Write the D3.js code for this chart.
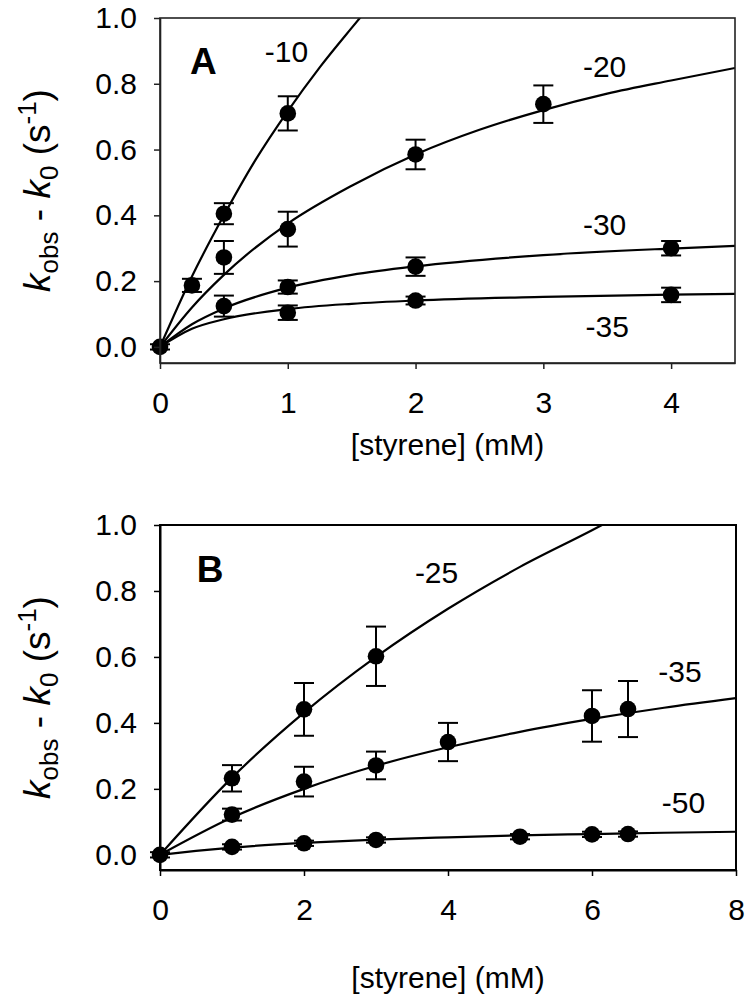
<!DOCTYPE html>
<html>
<head>
<meta charset="utf-8">
<script src="https://cdn.jsdelivr.net/npm/d3@7"></script>
<style>
  html, body { margin: 0; padding: 0; background: #fff; }
  svg { display: block; }
  text { font-family: "Liberation Sans", Arial, Helvetica, sans-serif; fill: #000; }
</style>
</head>
<body>
<svg id="chart" width="749" height="1001"></svg>
<script>
// ---------------- DATA ----------------
const xTicksA = [0, 1, 2, 3, 4];
const yTicks = [0.0, 0.2, 0.4, 0.6, 0.8, 1.0];
const xTicksB = [0, 2, 4, 6, 8];

// Panel A measured points [x (mM), y (s^-1), error]
const ptsA_m10 = [[0, 0, 0.008], [0.25, 0.187, 0.02], [0.5, 0.405, 0.032], [1, 0.71, 0.052]];
const ptsA_m20 = [[0.5, 0.272, 0.05], [1, 0.358, 0.053], [2, 0.585, 0.045], [3, 0.738, 0.057]];
const ptsA_m30 = [[0.5, 0.124, 0.032], [1, 0.182, 0.02], [2, 0.244, 0.028], [4, 0.300, 0.022]];
const ptsA_m35 = [[1, 0.104, 0.022], [2, 0.141, 0.012], [4, 0.158, 0.022]];

// Panel A fitted curves [x, y]
const curveA_m10 = [[0, 0], [0.25, 0.214], [0.5, 0.40], [0.75, 0.57], [1, 0.717], [1.25, 0.85], [1.5, 0.97], [1.65, 1.04]];
const curveA_m20 = [[0, 0], [0.25, 0.12], [0.5, 0.219], [1, 0.375], [1.5, 0.49], [2, 0.585], [2.5, 0.66], [3, 0.72], [3.5, 0.77], [4, 0.81], [4.5, 0.848]];
const curveA_m30 = [[0, 0], [0.25, 0.069], [0.5, 0.117], [1, 0.18], [1.5, 0.219], [2, 0.245], [3, 0.279], [4, 0.299], [4.5, 0.307]];
const curveA_m35 = [[0, 0], [0.25, 0.055], [0.5, 0.084], [1, 0.115], [1.5, 0.131], [2, 0.141], [3, 0.152], [4, 0.159], [4.5, 0.161]];

// Panel B measured points
const ptsB_m25 = [[0, 0, 0.008], [1, 0.232, 0.04], [2, 0.441, 0.08], [3, 0.602, 0.09]];
const ptsB_m35 = [[1, 0.122, 0.018], [2, 0.222, 0.045], [3, 0.271, 0.042], [4, 0.342, 0.058], [6, 0.421, 0.078], [6.5, 0.442, 0.085]];
const ptsB_m50 = [[1, 0.024, 0.008], [2, 0.035, 0.008], [3, 0.045, 0.008], [5, 0.055, 0.008], [6, 0.062, 0.008], [6.5, 0.063, 0.008]];

// Panel B fitted curves
const curveB_m25 = [[0, 0], [1, 0.234], [2, 0.431], [3, 0.60], [4, 0.746], [5, 0.873], [6, 0.984], [6.4, 1.03]];
const curveB_m35 = [[0, 0], [1, 0.113], [2, 0.20], [3, 0.27], [4, 0.326], [5, 0.373], [6, 0.412], [7, 0.446], [8, 0.475]];
const curveB_m50 = [[0, 0], [0.5, 0.012], [1, 0.022], [2, 0.036], [3, 0.046], [4, 0.053], [5, 0.059], [6, 0.063], [7, 0.067], [8, 0.07]];

// Series labels
const labelsA = ["-10", "-20", "-30", "-35"];
const labelsB = ["-25", "-35", "-50"];

// ---------------- LAYOUT ----------------
const panels = [
  {
    id: "A", left: 160, right: 735, top: 18, bottom: 363,
    xDomain: [0, 4.5], yDomain: [-0.049, 1.0], xTicks: xTicksA,
    frameColor: "#222", frameWidth: 1.6,
    series: [
      { pts: ptsA_m10, curve: curveA_m10, label: labelsA[0], lx: 0.82, ly: 0.866 },
      { pts: ptsA_m20, curve: curveA_m20, label: labelsA[1], lx: 3.31, ly: 0.821 },
      { pts: ptsA_m30, curve: curveA_m30, label: labelsA[2], lx: 3.31, ly: 0.340 },
      { pts: ptsA_m35, curve: curveA_m35, label: labelsA[3], lx: 3.33, ly: 0.030 }
    ],
    tagX: 0.235, tagY: 0.83,
    xTitleY: 455
  },
  {
    id: "B", left: 160, right: 736, top: 525, bottom: 870,
    xDomain: [0, 8], yDomain: [-0.046, 1.0], xTicks: xTicksB,
    frameColor: "#000", frameWidth: 2,
    series: [
      { pts: ptsB_m25, curve: curveB_m25, label: labelsB[0], lx: 3.54, ly: 0.824 },
      { pts: ptsB_m35, curve: curveB_m35, label: labelsB[1], lx: 6.92, ly: 0.524 },
      { pts: ptsB_m50, curve: curveB_m50, label: labelsB[2], lx: 6.97, ly: 0.127 }
    ],
    tagX: 0.51, tagY: 0.827,
    xTitleY: 988
  }
];

const svg = d3.select("#chart");
const FONT = 30;

panels.forEach((p, i) => {
  const x = d3.scaleLinear().domain(p.xDomain).range([p.left, p.right]);
  const y = d3.scaleLinear().domain(p.yDomain).range([p.bottom, p.top]);
  const g = svg.append("g");

  const clipId = "clip" + p.id;
  svg.append("clipPath").attr("id", clipId)
    .append("rect").attr("x", p.left).attr("y", p.top)
    .attr("width", p.right - p.left).attr("height", p.bottom - p.top);

  // curves
  const line = d3.line().x(d => x(d[0])).y(d => y(d[1])).curve(d3.curveMonotoneX);
  g.append("g").attr("clip-path", `url(#${clipId})`)
    .selectAll("path").data(p.series).join("path")
    .attr("d", s => line(s.curve))
    .attr("fill", "none").attr("stroke", "#000").attr("stroke-width", 2.2);

  // error bars & points
  p.series.forEach(s => {
    const eg = g.append("g");
    eg.selectAll("line.v").data(s.pts).join("line")
      .attr("x1", d => x(d[0])).attr("x2", d => x(d[0]))
      .attr("y1", d => y(d[1] - d[2])).attr("y2", d => y(d[1] + d[2]))
      .attr("stroke", "#000").attr("stroke-width", 2);
    eg.selectAll("line.t").data(s.pts).join("line")
      .attr("x1", d => x(d[0]) - 10).attr("x2", d => x(d[0]) + 10)
      .attr("y1", d => y(d[1] + d[2])).attr("y2", d => y(d[1] + d[2]))
      .attr("stroke", "#000").attr("stroke-width", 2);
    eg.selectAll("line.b").data(s.pts).join("line")
      .attr("x1", d => x(d[0]) - 10).attr("x2", d => x(d[0]) + 10)
      .attr("y1", d => y(d[1] - d[2])).attr("y2", d => y(d[1] - d[2]))
      .attr("stroke", "#000").attr("stroke-width", 2);
    eg.selectAll("circle").data(s.pts).join("circle")
      .attr("cx", d => x(d[0])).attr("cy", d => y(d[1])).attr("r", 8.3)
      .attr("fill", "#000");
  });

  // frame
  g.append("rect").attr("x", p.left).attr("y", p.top)
    .attr("width", p.right - p.left).attr("height", p.bottom - p.top)
    .attr("fill", "none").attr("stroke", p.frameColor).attr("stroke-width", p.frameWidth);

  // axes
  const xAxis = d3.axisBottom(x).tickValues(p.xTicks).tickFormat(d3.format("d"))
    .tickSizeInner(6).tickSizeOuter(0).tickPadding(23);
  const gx = g.append("g").attr("transform", `translate(0,${p.bottom})`).call(xAxis);
  const yAxis = d3.axisLeft(y).tickValues(yTicks).tickFormat(d3.format(".1f"))
    .tickSizeInner(6).tickSizeOuter(0).tickPadding(17);
  const gy = g.append("g").attr("transform", `translate(${p.left},0)`).call(yAxis);
  [gx, gy].forEach(a => {
    a.select(".domain").attr("stroke", p.frameColor).attr("stroke-width", p.frameWidth);
    a.selectAll(".tick line").attr("stroke", p.frameColor).attr("stroke-width", 1.5);
    a.selectAll(".tick text").attr("font-size", FONT)
      .attr("font-family", '"Liberation Sans", Arial, sans-serif').attr("fill", "#000");
  });

  // series labels
  g.selectAll("text.lab").data(p.series).join("text")
    .attr("x", s => x(s.lx)).attr("y", s => y(s.ly))
    .attr("font-size", FONT).text(s => s.label);

  // panel tag
  g.append("text").attr("x", x(p.tagX)).attr("y", y(p.tagY))
    .attr("font-size", 37).attr("font-weight", "bold").text(p.id);

  // x title
  g.append("text").attr("x", (p.left + p.right) / 2).attr("y", p.xTitleY)
    .attr("text-anchor", "middle").attr("font-size", FONT).text("[styrene] (mM)");

  // y title
  const cy = (p.top + p.bottom) / 2;
  const yt = g.append("text").attr("transform", `translate(50,${cy}) rotate(-90)`)
    .attr("text-anchor", "middle").attr("font-size", 37);
  yt.append("tspan").attr("font-style", "italic").text("k");
  yt.append("tspan").attr("font-size", 26).attr("dy", 8).text("obs");
  yt.append("tspan").attr("dy", -8).text(" - ");
  yt.append("tspan").attr("font-style", "italic").text("k");
  yt.append("tspan").attr("font-size", 26).attr("dy", 8).text("0");
  yt.append("tspan").attr("dy", -8).text(" (s");
  yt.append("tspan").attr("font-size", 26).attr("dy", -14).text("-1");
  yt.append("tspan").attr("dy", 14).text(")");
});
</script>
</body>
</html>
